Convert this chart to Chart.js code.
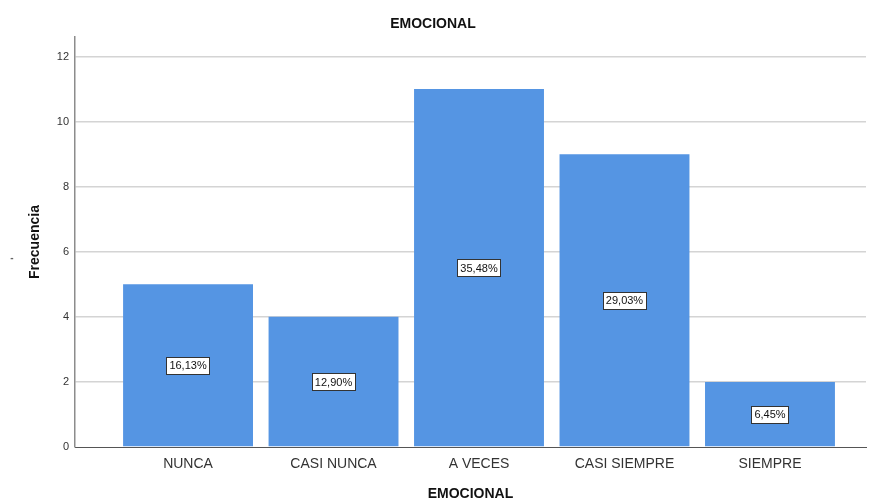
<!DOCTYPE html>
<html>
<head>
<meta charset="utf-8">
<script src="https://cdn.jsdelivr.net/npm/chart.js@4.4.0/dist/chart.umd.min.js"></script>
<style>
  html, body { margin: 0; padding: 0; background: #fff; }
  #wrap { width: 869px; height: 501px; }
</style>
</head>
<body>
<div id="wrap"><canvas id="emocionalChart"></canvas></div>
<script>
// Datos
const categorias = ['NUNCA', 'CASI NUNCA', 'A VECES', 'CASI SIEMPRE', 'SIEMPRE'];
const frecuencias = [5, 4, 11, 9, 2];
const porcentajes = ['16,13%', '12,90%', '35,48%', '29,03%', '6,45%'];
const ticksY = [0, 2, 4, 6, 8, 10, 12];

// etiquetas con recuadro en el centro de cada barra
const etiquetasBarras = {
    id: 'etiquetasBarras',
    afterDatasetsDraw(chart) {
        const ctx = chart.ctx;
        const meta = chart.getDatasetMeta(0);
        ctx.save();
        ctx.font = '11px "Liberation Sans", Arial, sans-serif';
        ctx.textAlign = 'center';
        ctx.textBaseline = 'middle';
        meta.data.forEach((bar, i) => {
            const txt = porcentajes[i];
            const cy = (bar.y + bar.base) / 2;
            const w = ctx.measureText(txt).width + 6;
            const h = 17;
            ctx.fillStyle = '#fff';
            ctx.fillRect(Math.round(bar.x - w / 2) + 0.5, Math.round(cy - h / 2) + 0.5, Math.round(w), h);
            ctx.strokeStyle = '#333';
            ctx.lineWidth = 1;
            ctx.strokeRect(Math.round(bar.x - w / 2) + 0.5, Math.round(cy - h / 2) + 0.5, Math.round(w), h);
            ctx.fillStyle = '#111';
            ctx.fillText(txt, bar.x, cy + 1);
        });
        // marca pequeña a la izquierda
        ctx.fillStyle = '#666';
        ctx.font = 'bold 10px "Liberation Sans", Arial, sans-serif';
        ctx.fillText('-', 12, 258);
        ctx.restore();
    }
};

new Chart(document.getElementById('emocionalChart'), {
    type: 'bar',
    data: {
        datasets: [{
            label: 'Frecuencia',
            data: categorias.map((c, i) => ({ x: i, y: frecuencias[i] })),
            backgroundColor: '#5595e3',
            categoryPercentage: 1,
            barPercentage: 0.893
        }]
    },
    options: {
        responsive: true,
        maintainAspectRatio: false,
        animation: false,
        layout: { padding: { left: 0, right: 3, top: 0, bottom: 0 } },
        plugins: {
            legend: { display: false },
            tooltip: { enabled: false },
            title: {
                display: true,
                text: 'EMOCIONAL',
                color: '#111',
                font: { family: '"Liberation Sans", Arial, sans-serif', size: 14, weight: 'bold', lineHeight: 1.2 },
                padding: { top: 15.6, bottom: 4.6 }
            }
        },
        scales: {
            x: {
                type: 'linear',
                offset: false,
                min: -0.777,
                max: 4.66,
                afterFit: s => { s.height = 54; },
                afterBuildTicks: s => {
                    s.ticks = categorias.map((c, i) => ({ value: i }));
                },
                grid: { display: false, drawTicks: false, offset: false },
                border: { display: true, color: '#555', width: 1 },
                ticks: {
                    autoSkip: false,
                    maxRotation: 0,
                    padding: 9,
                    color: '#333',
                    font: { family: '"Liberation Sans", Arial, sans-serif', size: 14 },
                    callback: v => Number.isInteger(v) && categorias[v] ? categorias[v] : ''
                },
                title: {
                    display: true,
                    text: 'EMOCIONAL',
                    color: '#111',
                    font: { family: '"Liberation Sans", Arial, sans-serif', size: 14, weight: 'bold', lineHeight: 1 },
                    padding: { top: 0, bottom: 0 }
                }
            },
            y: {
                min: 0,
                max: 12.6,
                afterFit: s => { s.width = 75; },
                afterBuildTicks: s => {
                    s.ticks = ticksY.map(v => ({ value: v })).concat([{ value: 12.6 }]);
                },
                grid: {
                    drawTicks: false,
                    color: c => ticksY.includes(c.tick.value) && c.tick.value !== 0 ? '#d4d4d4' : 'rgba(0,0,0,0)',
                    lineWidth: 1.5
                },
                border: { display: true, color: '#8c8c8c', width: 1.5 },
                ticks: {
                    padding: 6,
                    color: '#333',
                    font: { family: '"Liberation Sans", Arial, sans-serif', size: 11 },
                    callback: v => ticksY.includes(v) ? v : ''
                },
                title: {
                    display: true,
                    text: 'Frecuencia',
                    color: '#111',
                    font: { family: '"Liberation Sans", Arial, sans-serif', size: 14, weight: 'bold', lineHeight: 1.2 },
                    padding: { top: 26.6, bottom: 0 }
                }
            }
        }
    },
    plugins: [etiquetasBarras]
});
</script>
</body>
</html>
